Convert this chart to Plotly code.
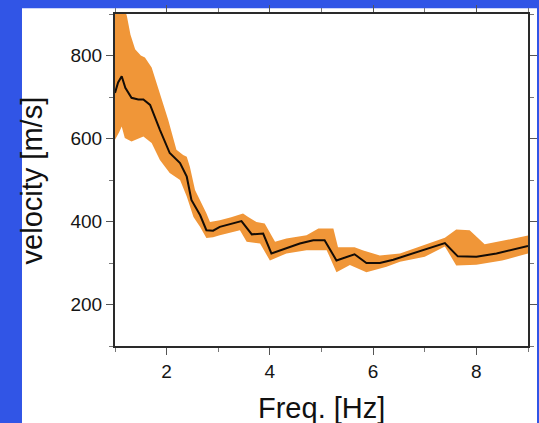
import plotly.graph_objects as go

# Mean phase velocity curve
freq_mean = [1.00, 1.06, 1.13, 1.20, 1.32, 1.45, 1.55, 1.68, 1.87, 2.06, 2.26, 2.39,
             2.48, 2.65, 2.77, 2.90, 3.03, 3.23, 3.45, 3.65, 3.87, 4.03, 4.32, 4.58,
             4.84, 5.06, 5.29, 5.64, 5.87, 6.13, 6.39, 6.97, 7.39, 7.64, 8.00, 8.39, 9.00]
vel_mean = [710, 735, 750, 722, 698, 694, 694, 681, 621, 565, 541, 508,
            452, 415, 379, 378, 387, 394, 401, 369, 371, 323, 335, 347,
            355, 355, 306, 321, 300, 300, 308, 331, 348, 316, 315, 323, 341]

# Upper bound of the uncertainty band
freq_upper = [1.00, 1.15, 1.23, 1.30, 1.39, 1.50, 1.58, 1.71, 1.87, 2.03, 2.19, 2.32,
              2.39, 2.45, 2.55, 2.65, 2.77, 2.84, 3.03, 3.25, 3.48, 3.58, 3.74, 3.90,
              4.10, 4.32, 4.71, 4.94, 5.23, 5.32, 5.64, 5.81, 6.13, 6.52, 7.00, 7.39,
              7.61, 7.87, 8.16, 9.00]
vel_upper = [990, 930, 895, 850, 815, 800, 795, 771, 710, 645, 573, 560,
             556, 532, 476, 452, 420, 399, 403, 410, 419, 411, 399, 395,
             351, 359, 367, 383, 383, 338, 338, 330, 318, 323, 343, 361,
             381, 379, 345, 366]

# Lower bound of the uncertainty band
freq_lower = [1.00, 1.08, 1.13, 1.19, 1.32, 1.45, 1.55, 1.71, 1.87, 2.06, 2.26, 2.39,
              2.52, 2.65, 2.77, 2.90, 3.03, 3.42, 3.55, 3.81, 4.00, 4.32, 4.71, 5.10,
              5.29, 5.55, 5.87, 6.26, 6.52, 7.00, 7.39, 7.61, 8.00, 8.50, 9.00]
vel_lower = [597, 615, 629, 601, 593, 600, 605, 589, 548, 517, 500, 460,
             411, 387, 360, 362, 367, 379, 351, 347, 306, 323, 331, 331,
             278, 295, 278, 291, 303, 315, 340, 294, 296, 306, 323]

x_ticks = [2, 4, 6, 8]
y_ticks = [200, 400, 600, 800]

band_x = freq_upper + freq_lower[::-1]
band_y = vel_upper + vel_lower[::-1]

fig = go.Figure()
fig.add_trace(go.Scatter(x=band_x, y=band_y, mode="lines", fill="toself",
                         fillcolor="#f09638", line=dict(width=0, color="#f09638"),
                         hoverinfo="skip", showlegend=False))
fig.add_trace(go.Scatter(x=freq_mean, y=vel_mean, mode="lines",
                         line=dict(color="#140c06", width=2), showlegend=False))

axis_common = dict(showline=True, linecolor="#2a2a2a", linewidth=2, mirror="ticks",
                   ticks="outside", ticklen=7, tickwidth=1.3, tickcolor="#555",
                   showgrid=False, zeroline=False, automargin=False,
                   tickfont=dict(family="Liberation Sans, Arial, sans-serif", size=19, color="#151515"))

fig.update_xaxes(range=[1, 9], tickvals=x_ticks, ticktext=[str(v) for v in x_ticks],
                 minor=dict(dtick=1, tick0=1, ticks="outside", ticklen=4, tickcolor="#777"),
                 **axis_common)
fig.update_yaxes(range=[100, 900], tickvals=y_ticks, ticktext=[str(v) for v in y_ticks],
                 minor=dict(dtick=100, tick0=100, ticks="outside", ticklen=4, tickcolor="#777"),
                 **axis_common)

fig.add_shape(type="rect", xref="paper", yref="paper", x0=-0.2252, x1=1.0218,
              y0=-0.35, y1=1.017, fillcolor="white", line=dict(width=0), layer="below")

title_font = dict(family="Liberation Sans, Arial, sans-serif", size=29, color="#111")
fig.add_annotation(text="Freq. [Hz]", xref="paper", yref="paper", x=0.5, y=-0.188,
                   xanchor="center", yanchor="middle", showarrow=False, font=title_font)
fig.add_annotation(text="velocity [m/s]", xref="paper", yref="paper", x=-0.2, y=0.5,
                   xanchor="center", yanchor="middle", textangle=-90, showarrow=False,
                   font=title_font)

fig.update_layout(width=539, height=423, margin=dict(l=115, r=11, t=14, b=77),
                  paper_bgcolor="#3155e6", plot_bgcolor="white")

fig.write_html("out.html")
